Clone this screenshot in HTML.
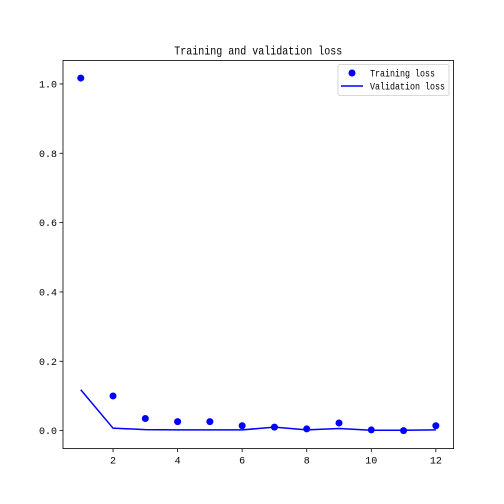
<!DOCTYPE html>
<html><head><meta charset="utf-8"><style>body{margin:0;background:#fff}svg{display:block;font-family:"Liberation Mono","WenQuanYi Zen Hei",monospace}</style></head>
<body>
<svg id="c" width="504" height="504" xmlns="http://www.w3.org/2000/svg"></svg>
<script>
const epochs=[1,2,3,4,5,6,7,8,9,10,11,12];
const trainingLoss=[1.017,0.100,0.035,0.026,0.026,0.014,0.010,0.005,0.022,0.002,0.000,0.014];
const validationLoss=[0.118,0.007,0.003,0.002,0.002,0.002,0.010,0.002,0.006,0.001,0.001,0.002];
const xTicks=[2,4,6,8,10,12];
const yTicks=[0.0,0.2,0.4,0.6,0.8,1.0];
const L=63,R=453.6,T=60.5,B=448.6;
const xmin=0.45,xmax=12.55,ymin=-0.0519,ymax=1.0677;
const sx=v=>L+(v-xmin)/(xmax-xmin)*(R-L);
const sy=v=>B-(v-ymin)/(ymax-ymin)*(B-T);
const svg=document.getElementById('c');const NS='http://www.w3.org/2000/svg';
function mk(t,a,txt){const e=document.createElementNS(NS,t);for(const k in a)e.setAttribute(k,a[k]);if(txt!=null)e.textContent=txt;svg.appendChild(e);return e;}
let e;
e=mk('rect',{x:L,y:T,width:R-L,height:B-T,fill:'none',stroke:'#000','stroke-width':0.8});


xTicks.forEach(v=>{const x=sx(v);
e=mk('line',{x1:x,x2:x,y1:B,y2:B+3.5,stroke:'#000','stroke-width':0.8});


e=mk('text',{x:x,y:B+15,'text-anchor':'middle','font-size':10},String(v));

});
yTicks.forEach(v=>{const y=sy(v);
e=mk('line',{x1:L-3.5,x2:L,y1:y,y2:y,stroke:'#000','stroke-width':0.8});


e=mk('text',{x:L-6,y:y+3.5,'text-anchor':'end','font-size':10},v.toFixed(1));

});
e=mk('polyline',{points:epochs.map((x,i)=>sx(x)+','+sy(validationLoss[i])).join(' '),fill:'none',stroke:'#0000ff','stroke-width':1.5});


epochs.forEach((x,i)=>{e=mk('circle',{cx:sx(x),cy:sy(trainingLoss[i]),r:3.5,fill:'#0000ff'});

});
e=mk('text',{x:(L+R)/2,y:T-6,'text-anchor':'middle','font-size':12,textLength:168,lengthAdjust:'spacingAndGlyphs'},'Training and validation loss');


e=mk('rect',{x:338,y:64.5,width:111,height:31,rx:2,fill:'#fff',stroke:'#ccc','stroke-width':0.8});


e=mk('circle',{cx:352,cy:73,r:3.5,fill:'#0000ff'});


e=mk('text',{x:370,y:76.5,'font-size':10,textLength:65,lengthAdjust:'spacingAndGlyphs'},'Training loss');


e=mk('line',{x1:341,x2:363,y1:86,y2:86,stroke:'#0000ff','stroke-width':1.5});


e=mk('text',{x:370,y:89.5,'font-size':10,textLength:75,lengthAdjust:'spacingAndGlyphs'},'Validation loss');


</script>
</body></html>
